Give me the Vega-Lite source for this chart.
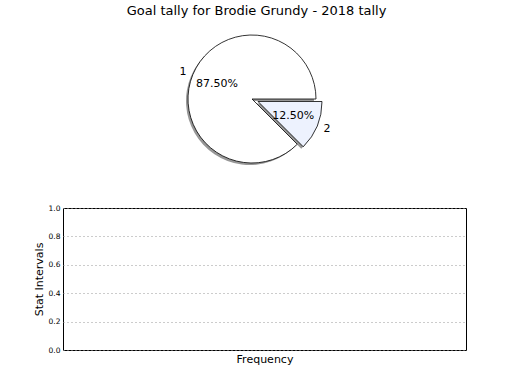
{
  "$schema": "https://vega.github.io/schema/vega-lite/v6.json",
  "background": "white",
  "padding": {"left": 32, "top": 5, "right": 10, "bottom": 6},
  "bounds": "flush",
  "spacing": 35,
  "title": {"text": "Goal tally for Brodie Grundy - 2018 tally", "font": "DejaVu Sans", "fontSize": 13, "fontWeight": "normal", "color": "#000000", "anchor": "middle", "offset": 7, "dx": 7},
  "config": {
    "view": {"stroke": null},
    "font": "DejaVu Sans",
    "axis": {"labelColor": "#000000", "titleColor": "#000000", "labelFont": "DejaVu Sans", "titleFont": "DejaVu Sans"}
  },
  "datasets": {
    "goals": [
      {"label": "1", "share": 0.875},
      {"label": "2", "share": 0.125}
    ],
    "stats": []
  },
  "vconcat": [
    {
      "width": 378,
      "height": 148,
      "data": {"name": "goals"},
      "encoding": {
        "theta": {"field": "share", "type": "quantitative", "stack": true, "scale": {"domain": [0, 1], "range": [1.5708, 7.854]}},
        "order": {"field": "label", "sort": "descending"}
      },
      "layer": [
        {
          "mark": {"type": "arc", "radius": 64, "fill": "#8c8c8c", "xOffset": -2, "yOffset": 2},
          "encoding": {"opacity": {"condition": {"test": "datum.label === '1'", "value": 0.9}, "value": 0}}
        },
        {
          "mark": {"type": "arc", "radius": 64, "fill": "#8c8c8c", "xOffset": 4, "yOffset": 4.5},
          "encoding": {"opacity": {"condition": {"test": "datum.label === '2'", "value": 0.9}, "value": 0}}
        },
        {
          "mark": {"type": "arc", "radius": 64, "fill": "#ffffff", "stroke": "#000000", "strokeWidth": 0.8},
          "encoding": {"opacity": {"condition": {"test": "datum.label === '1'", "value": 1}, "value": 0}}
        },
        {
          "mark": {"type": "arc", "radius": 64, "fill": "#edf2fe", "stroke": "#000000", "strokeWidth": 0.8, "xOffset": 6, "yOffset": 2.5},
          "encoding": {"opacity": {"condition": {"test": "datum.label === '2'", "value": 1}, "value": 0}}
        },
        {
          "mark": {"type": "text", "radius": 71, "fontSize": 11, "font": "DejaVu Sans", "color": "#000000", "align": "right"},
          "encoding": {
            "text": {"field": "label", "type": "nominal"},
            "opacity": {"condition": {"test": "datum.label === '1'", "value": 1}, "value": 0}
          }
        },
        {
          "mark": {"type": "text", "radius": 71, "fontSize": 11, "font": "DejaVu Sans", "color": "#000000", "align": "left", "xOffset": 6, "yOffset": 2.5},
          "encoding": {
            "text": {"field": "label", "type": "nominal"},
            "opacity": {"condition": {"test": "datum.label === '2'", "value": 1}, "value": 0}
          }
        },
        {
          "mark": {"type": "text", "radius": 38, "fontSize": 11, "font": "DejaVu Sans", "color": "#000000"},
          "encoding": {
            "text": {"field": "share", "type": "quantitative", "format": ".2%"},
            "opacity": {"condition": {"test": "datum.label === '1'", "value": 1}, "value": 0}
          }
        },
        {
          "mark": {"type": "text", "radius": 38, "fontSize": 11, "font": "DejaVu Sans", "color": "#000000", "xOffset": 6, "yOffset": 2.5},
          "encoding": {
            "text": {"field": "share", "type": "quantitative", "format": ".2%"},
            "opacity": {"condition": {"test": "datum.label === '2'", "value": 1}, "value": 0}
          }
        }
      ]
    },
    {
      "width": 403,
      "height": 142,
      "data": {"name": "stats"},
      "view": {"stroke": "#000000", "strokeWidth": 1},
      "mark": {"type": "point"},
      "encoding": {
        "x": {
          "field": "frequency", "type": "quantitative",
          "scale": {"domain": [0, 1]},
          "axis": {"title": "Frequency", "labels": false, "ticks": false, "grid": false, "domain": false, "titleFontSize": 11, "titleFontWeight": "normal", "titlePadding": 3}
        },
        "y": {
          "field": "interval", "type": "quantitative",
          "scale": {"domain": [0, 1]},
          "axis": {"title": "Stat Intervals", "values": [0, 0.2, 0.4, 0.6, 0.8, 1.0], "format": ".1f", "labelFontSize": 7.5, "labelPadding": 3, "grid": true, "gridDash": [1, 3], "gridColor": "#999999", "gridWidth": 1, "domain": false, "ticks": false, "titleFontSize": 11, "titleFontWeight": "normal", "titlePadding": 4}
        }
      }
    }
  ]
}
